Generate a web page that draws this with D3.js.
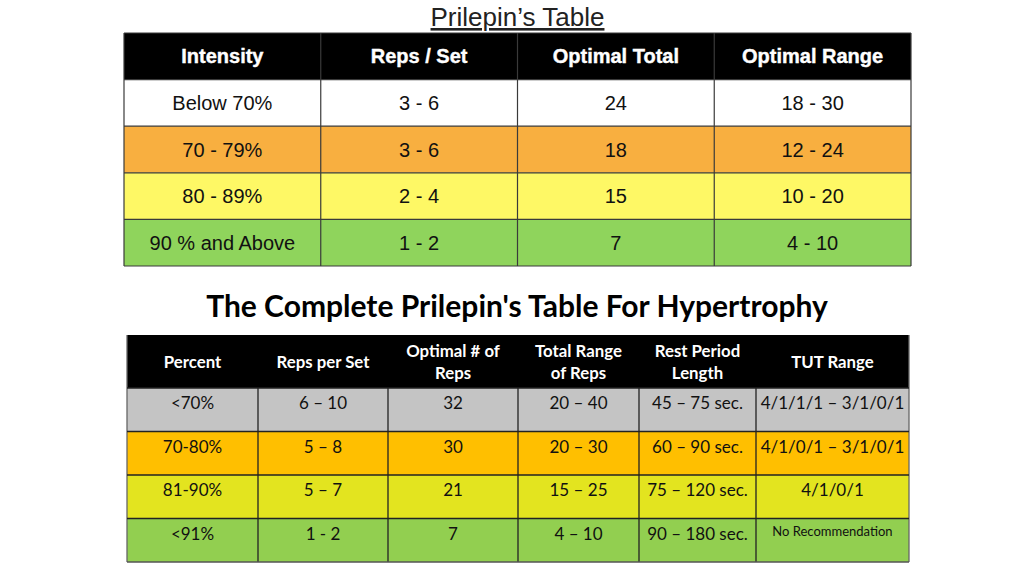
<!DOCTYPE html>
<html>
<head>
<meta charset="utf-8">
<script src="https://cdn.jsdelivr.net/npm/d3@7"></script>
<style>
  body { margin: 0; background: #fff; }
  svg { display: block; }
</style>
</head>
<body>
<svg id="chart" width="1024" height="576"></svg>
<script>
// ---- data: classic table
var topTitle = "Prilepin\u2019s Table";
var topHeaders = ["Intensity", "Reps / Set", "Optimal Total", "Optimal Range"];
var topIntensity = ["Below 70%", "70 - 79%", "80 - 89%", "90 % and Above"];
var topRepsSet = ["3 - 6", "3 - 6", "2 - 4", "1 - 2"];
var topOptTotal = ["24", "18", "15", "7"];
var topOptRange = ["18 - 30", "12 - 24", "10 - 20", "4 - 10"];
var topColors = ["#ffffff", "#f8af40", "#fef865", "#8fd45c"];

// ---- data: hypertrophy table
var botTitle = "The Complete Prilepin's Table For Hypertrophy";
var botHeaders = [["Percent"], ["Reps per Set"], ["Optimal # of", "Reps"], ["Total Range", "of Reps"], ["Rest Period", "Length"], ["TUT Range"]];
var botPercent = ["<70%", "70-80%", "81-90%", "<91%"];
var botRepsSet = ["6 \u2013 10", "5 \u2013 8", "5 \u2013 7", "1 - 2"];
var botOptimal = ["32", "30", "21", "7"];
var botTotal = ["20 \u2013 40", "20 \u2013 30", "15 \u2013 25", "4 \u2013 10"];
var botRest = ["45 \u2013 75 sec.", "60 \u2013 90 sec.", "75 \u2013 120 sec.", "90 \u2013 180 sec."];
var botTut = ["4/1/1/1 \u2013 3/1/0/1", "4/1/0/1 \u2013 3/1/0/1", "4/1/0/1", "No Recommendation"];
var botColors = ["#c4c4c4", "#ffbf00", "#e3e41f", "#92cf50"];

var svg = d3.select("#chart");

// ================= top table =================
var topRows = topIntensity.map(function (d, i) {
  return [d, topRepsSet[i], topOptTotal[i], topOptRange[i]];
});

var tx = d3.scaleBand().domain(d3.range(topHeaders.length)).range([124, 911]);
var ty = d3.scaleBand().domain(d3.range(topRows.length + 1)).range([33, 266]);

svg.append("text")
  .attr("x", (tx.range()[0] + tx.range()[1]) / 2)
  .attr("y", 26)
  .attr("text-anchor", "middle")
  .style("font-family", "'Liberation Sans', Arial, sans-serif")
  .style("font-size", "26px")
  .style("fill", "#222")
  .style("text-decoration", "underline")
  .text(topTitle);

var gTop = svg.append("g");

// header
gTop.append("rect")
  .attr("x", tx.range()[0]).attr("y", ty(0))
  .attr("width", tx.range()[1] - tx.range()[0]).attr("height", ty.bandwidth())
  .attr("fill", "#000");

gTop.selectAll(".th")
  .data(topHeaders)
  .enter()
  .append("text")
  .attr("x", (d, i) => tx(i) + tx.bandwidth() / 2)
  .attr("y", ty(0) + ty.bandwidth() / 2 + 7)
  .attr("text-anchor", "middle")
  .style("font-family", "'Liberation Sans', Arial, sans-serif")
  .style("font-weight", "bold")
  .style("font-size", "20px")
  .style("fill", "#fff")
  .style("stroke", "#fff")
  .style("stroke-width", 0.4)
  .text(d => d);

var topRowG = gTop.selectAll(".tr")
  .data(topRows)
  .enter()
  .append("g");

topRowG.append("rect")
  .attr("x", tx.range()[0])
  .attr("y", (d, i) => ty(i + 1))
  .attr("width", tx.range()[1] - tx.range()[0])
  .attr("height", ty.bandwidth())
  .attr("fill", (d, i) => topColors[i]);

topRowG.each(function (row, r) {
  d3.select(this).selectAll("text")
    .data(row)
    .enter()
    .append("text")
    .attr("x", (d, i) => tx(i) + tx.bandwidth() / 2)
    .attr("y", ty(r + 1) + ty.bandwidth() / 2 + 7)
    .attr("text-anchor", "middle")
    .style("font-family", "'Liberation Sans', Arial, sans-serif")
    .style("font-size", "20px")
    .style("fill", "#111")
    .text(d => d);
});

// grid lines
gTop.selectAll(".vl")
  .data(d3.range(topHeaders.length + 1))
  .enter()
  .append("line")
  .attr("x1", i => i < topHeaders.length ? tx(i) : tx.range()[1])
  .attr("x2", i => i < topHeaders.length ? tx(i) : tx.range()[1])
  .attr("y1", ty.range()[0]).attr("y2", ty.range()[1])
  .style("stroke", "#3a3a3a").style("stroke-width", 1.2);

gTop.selectAll(".hl")
  .data(d3.range(topRows.length + 2))
  .enter()
  .append("line")
  .attr("x1", tx.range()[0]).attr("x2", tx.range()[1])
  .attr("y1", i => i <= topRows.length ? ty(i) : ty.range()[1])
  .attr("y2", i => i <= topRows.length ? ty(i) : ty.range()[1])
  .style("stroke", "#3a3a3a").style("stroke-width", 1.2);

// ================= bottom table =================
var botRows = botPercent.map(function (d, i) {
  return [d, botRepsSet[i], botOptimal[i], botTotal[i], botRest[i], botTut[i]];
});

// relative column widths (layout)
var colW = [131, 130, 130, 121, 117, 153];
var colEdge = [0];
colW.forEach(function (w) { colEdge.push(colEdge[colEdge.length - 1] + w); });
var bx = d3.scaleLinear().domain([0, colEdge[colEdge.length - 1]]).range([127, 909]);
var headH = 53;
var by = d3.scaleBand().domain(d3.range(botRows.length)).range([335 + headH, 562]);

svg.append("text")
  .attr("x", 517)
  .attr("y", 317)
  .attr("text-anchor", "middle")
  .style("font-family", "Lato, 'Open Sans', sans-serif")
  .style("font-weight", "bold")
  .style("font-size", "30px")
  .style("fill", "#000")
  .text(botTitle);

var gBot = svg.append("g");

gBot.append("rect")
  .attr("x", bx(0)).attr("y", 335)
  .attr("width", bx(colEdge[colEdge.length - 1]) - bx(0)).attr("height", headH)
  .attr("fill", "#000");

gBot.selectAll(".bh")
  .data(botHeaders)
  .enter()
  .append("text")
  .attr("text-anchor", "middle")
  .style("font-family", "Lato, 'Open Sans', sans-serif")
  .style("font-weight", "bold")
  .style("font-size", "16.8px")
  .style("fill", "#fff")
  .each(function (lines, i) {
    var cx = (bx(colEdge[i]) + bx(colEdge[i + 1])) / 2;
    var y0 = lines.length === 1 ? 368 : 357;
    d3.select(this).selectAll("tspan")
      .data(lines)
      .enter()
      .append("tspan")
      .attr("x", cx)
      .attr("y", (d, j) => y0 + j * 22)
      .text(d => d);
  });

var botRowG = gBot.selectAll(".br")
  .data(botRows)
  .enter()
  .append("g");

botRowG.append("rect")
  .attr("x", bx(0))
  .attr("y", (d, i) => by(i))
  .attr("width", bx(colEdge[colEdge.length - 1]) - bx(0))
  .attr("height", by.bandwidth())
  .attr("fill", (d, i) => botColors[i]);

botRowG.each(function (row, r) {
  d3.select(this).selectAll("text")
    .data(row)
    .enter()
    .append("text")
    .attr("x", (d, i) => (bx(colEdge[i]) + bx(colEdge[i + 1])) / 2)
    .attr("y", d => by(r) + (d === "No Recommendation" ? 17 : 21))
    .attr("text-anchor", "middle")
    .style("font-family", "Lato, 'Open Sans', sans-serif")
    .style("font-size", d => d === "No Recommendation" ? "13px" : "17px")
    .style("fill", "#111")
    .text(d => d);
});

gBot.selectAll(".bvl")
  .data(colEdge)
  .enter()
  .append("line")
  .attr("x1", d => bx(d)).attr("x2", d => bx(d))
  .attr("y1", (d, i) => (i === 0 || i === colEdge.length - 1) ? 335 : by.range()[0])
  .attr("y2", by.range()[1])
  .style("stroke", (d, i) => (i === 0 || i === colEdge.length - 1) ? "#666" : "#222")
  .style("stroke-width", 1.3);

gBot.selectAll(".bhl")
  .data(d3.range(botRows.length + 1))
  .enter()
  .append("line")
  .attr("x1", bx(0)).attr("x2", bx(colEdge[colEdge.length - 1]))
  .attr("y1", i => i < botRows.length ? by(i) : by.range()[1])
  .attr("y2", i => i < botRows.length ? by(i) : by.range()[1])
  .style("stroke", (d, i) => i === botRows.length ? "#555" : "#222")
  .style("stroke-width", 1.3);
</script>
</body>
</html>
